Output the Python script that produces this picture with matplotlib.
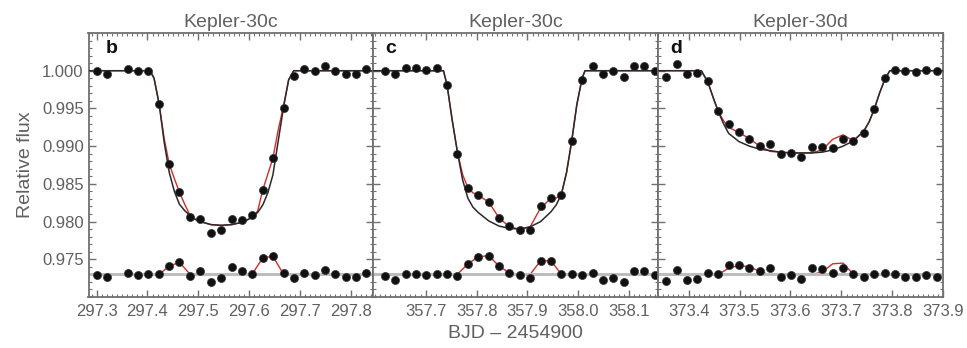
import matplotlib
matplotlib.use("Agg")
import matplotlib.pyplot as plt
from matplotlib.ticker import MultipleLocator, FixedLocator, FormatStrFormatter

plt.rcParams['font.family'] = ['Liberation Sans', 'DejaVu Sans']

# ---------------- data ----------------
titles = ["Kepler-30c", "Kepler-30c", "Kepler-30d"]
letters = ["b", "c", "d"]
xlims = [(297.284, 297.844), (357.5965, 358.1565), (373.340, 373.900)]
xticks = [[297.3, 297.4, 297.5, 297.6, 297.7, 297.8],
          [357.7, 357.8, 357.9, 358.0, 358.1],
          [373.4, 373.5, 373.6, 373.7, 373.8, 373.9]]
yticks = [0.975, 0.980, 0.985, 0.990, 0.995, 1.000]
resid_base = 0.973

# panel b
b_t = [297.300, 297.320, 297.361, 297.382, 297.402, 297.423, 297.443, 297.463, 297.484,
       297.504, 297.525, 297.545, 297.566, 297.586, 297.606, 297.627, 297.647, 297.668,
       297.688, 297.709, 297.729, 297.749, 297.770, 297.790, 297.811, 297.831, 297.852]
b_flux = [0.9999, 0.9996, 1.0002, 0.9999, 1.0000, 0.9956, 0.9876, 0.9839, 0.9806,
          0.9803, 0.9785, 0.9789, 0.9804, 0.9802, 0.9809, 0.9842, 0.9884, 0.9950,
          0.9993, 1.0002, 0.9999, 1.0006, 1.0000, 0.9996, 0.9996, 1.0002, 0.9998]
b_resid = [0.9729, 0.9727, 0.9732, 0.9729, 0.9731, 0.9730, 0.9741, 0.9746, 0.9728,
           0.9735, 0.9720, 0.9725, 0.9740, 0.9735, 0.9731, 0.9752, 0.9754, 0.9732,
           0.9725, 0.9732, 0.9729, 0.9736, 0.9731, 0.9727, 0.9727, 0.9732, 0.9729]
b_mt = [297.27, 297.405, 297.413, 297.423, 297.433, 297.443, 297.453, 297.463, 297.474,
        297.484, 297.494, 297.504, 297.525, 297.545, 297.566, 297.586, 297.596, 297.606,
        297.617, 297.627, 297.637, 297.647, 297.657, 297.668, 297.678, 297.688, 297.86]
b_black = [1.0000, 1.0000, 0.9990, 0.9956, 0.9905, 0.9865, 0.9840, 0.9823, 0.9814,
           0.9808, 0.9803, 0.9800, 0.9796, 0.9795, 0.9796, 0.9799, 0.9802, 0.9806,
           0.9812, 0.9822, 0.9838, 0.9862, 0.9905, 0.9952, 0.9988, 1.0000, 1.0000]
b_red = [1.0000, 1.0000, 0.9990, 0.9956, 0.9910, 0.9876, 0.9857, 0.9839, 0.9822,
         0.9808, 0.9803, 0.9800, 0.9796, 0.9795, 0.9796, 0.9799, 0.9802, 0.9806,
         0.9814, 0.9842, 0.9863, 0.9884, 0.9920, 0.9954, 0.9988, 1.0000, 1.0000]
b_rt = [297.27, 297.423, 297.443, 297.463, 297.484, 297.606, 297.627, 297.647, 297.668, 297.86]
b_rred = [0.9730, 0.9730, 0.9741, 0.9746, 0.9730, 0.9730, 0.9752, 0.9754, 0.9730, 0.9730]

# panel c
c_t = [357.6195, 357.6399, 357.6604, 357.6808, 357.7012, 357.7216, 357.7420, 357.7624,
       357.7829, 357.8033, 357.8237, 357.8441, 357.8645, 357.8849, 357.9053, 357.9258,
       357.9462, 357.9666, 357.9870, 358.0074, 358.0278, 358.0482, 358.0687, 358.0891,
       358.1095, 358.1299, 358.1503]
c_flux = [1.0000, 0.9995, 1.0004, 1.0004, 1.0001, 1.0003, 0.9981, 0.9890,
          0.9845, 0.9835, 0.9826, 0.9805, 0.9794, 0.9789, 0.9789, 0.9820,
          0.9831, 0.9835, 0.9907, 0.9988, 1.0006, 0.9996, 0.9999, 0.9992,
          1.0006, 1.0006, 1.0000]
c_resid = [0.9728, 0.9722, 0.9731, 0.9731, 0.9729, 0.9730, 0.9730, 0.9728,
           0.9744, 0.9753, 0.9755, 0.9741, 0.9732, 0.9729, 0.9725, 0.9748,
           0.9748, 0.9731, 0.9730, 0.9729, 0.9732, 0.9723, 0.9725, 0.9720,
           0.9735, 0.9735, 0.9729]
c_mt = [357.58, 357.735, 357.742, 357.752, 357.7624, 357.7727, 357.7829, 357.793,
        357.8033, 357.8237, 357.8441, 357.8645, 357.8849, 357.9053, 357.9258, 357.9462,
        357.9564, 357.9666, 357.9768, 357.9870, 357.997, 358.0074, 358.013, 358.17]
c_black = [1.0000, 1.0000, 0.9981, 0.9935, 0.9892, 0.9855, 0.9831, 0.9819,
           0.9812, 0.9801, 0.9794, 0.9791, 0.9790, 0.9793, 0.9800, 0.9813,
           0.9822, 0.9836, 0.9865, 0.9907, 0.9955, 0.9990, 1.0000, 1.0000]
c_red = [1.0000, 1.0000, 0.9981, 0.9935, 0.9892, 0.9862, 0.9845, 0.9838,
         0.9835, 0.9826, 0.9805, 0.9793, 0.9790, 0.9793, 0.9818, 0.9831,
         0.9831, 0.9836, 0.9865, 0.9907, 0.9955, 0.9990, 1.0000, 1.0000]
c_rt = [357.58, 357.7624, 357.7829, 357.8033, 357.8237, 357.8441, 357.8645, 357.8849,
        357.9053, 357.9258, 357.9462, 357.9666, 358.17]
c_rred = [0.9730, 0.9730, 0.9744, 0.9753, 0.9755, 0.9741, 0.9732, 0.9730,
          0.9730, 0.9748, 0.9748, 0.9730, 0.9730]

# panel d
d_t = [373.3561, 373.3765, 373.3969, 373.4173, 373.4378, 373.4582, 373.4786, 373.4990,
       373.5194, 373.5398, 373.5603, 373.5807, 373.6011, 373.6215, 373.6419, 373.6624,
       373.6828, 373.7032, 373.7236, 373.7440, 373.7645, 373.7849, 373.8053, 373.8257,
       373.8461, 373.8666, 373.8870]
d_flux = [0.9992, 1.0009, 0.9996, 0.9997, 0.9987, 0.9947, 0.9930, 0.9919,
          0.9909, 0.9900, 0.9903, 0.9890, 0.9891, 0.9885, 0.9899, 0.9899,
          0.9897, 0.9909, 0.9907, 0.9917, 0.9949, 0.9990, 1.0001, 0.9999,
          0.9998, 1.0001, 1.0000]
d_resid = [0.9721, 0.9736, 0.9723, 0.9724, 0.9732, 0.9731, 0.9743, 0.9743,
           0.9739, 0.9735, 0.9739, 0.9727, 0.9729, 0.9724, 0.9738, 0.9737,
           0.9732, 0.9738, 0.9730, 0.9727, 0.9730, 0.9732, 0.9730, 0.9727,
           0.9726, 0.9729, 0.9727]
d_mt = [373.33, 373.425, 373.4378, 373.448, 373.4582, 373.4684, 373.4786, 373.4990,
        373.5194, 373.5398, 373.5603, 373.5807, 373.6011, 373.6215, 373.6419, 373.6624,
        373.6828, 373.7032, 373.7236, 373.7440, 373.7543, 373.7645, 373.7747, 373.7849,
        373.795, 373.91]
d_black = [1.0000, 1.0000, 0.9985, 0.9965, 0.9946, 0.9930, 0.9917, 0.9906,
           0.9900, 0.9896, 0.9894, 0.9892, 0.9891, 0.9891, 0.9891, 0.9892,
           0.9895, 0.9900, 0.9907, 0.9920, 0.9932, 0.9949, 0.9970, 0.9988,
           1.0000, 1.0000]
d_red = [1.0000, 1.0000, 0.9985, 0.9965, 0.9946, 0.9934, 0.9925, 0.9918,
         0.9910, 0.9900, 0.9893, 0.9892, 0.9891, 0.9891, 0.9891, 0.9895,
         0.9909, 0.9915, 0.9907, 0.9920, 0.9932, 0.9949, 0.9970, 0.9988,
         1.0000, 1.0000]
d_rt = [373.33, 373.4582, 373.4786, 373.4990, 373.5194, 373.5398, 373.5603, 373.5807,
        373.6419, 373.6624, 373.6828, 373.7032, 373.7236, 373.91]
d_rred = [0.9730, 0.9730, 0.9738, 0.9742, 0.9740, 0.9734, 0.9729, 0.9730,
          0.9730, 0.9733, 0.9744, 0.9745, 0.9730, 0.9730]

panels = [
    (b_t, b_flux, b_resid, b_mt, b_black, b_red, b_rt, b_rred),
    (c_t, c_flux, c_resid, c_mt, c_black, c_red, c_rt, c_rred),
    (d_t, d_flux, d_resid, d_mt, d_black, d_red, d_rt, d_rred),
]

# ---------------- figure ----------------
W, H = 967, 348
fig = plt.figure(figsize=(W / 100, H / 100), dpi=100)
axes_px = [(88.5, 373.0), (373.0, 658.0), (658.0, 943.3)]
top_px, bot_px = 33.0, 297.0
txt_col = '#606060'
spine_col = '#707070'
letter_dx = [0.062, 0.042, 0.042]

for i, (px, data) in enumerate(zip(axes_px, panels)):
    t, flux, resid, mt, black, red, rt, rred = data
    ax = fig.add_axes([px[0] / W, 1 - bot_px / H, (px[1] - px[0]) / W, (bot_px - top_px) / H])
    ax.set_xlim(*xlims[i])
    ax.set_ylim(0.970, 1.005)

    # models
    ax.plot(mt, red, color='#d62a2a', lw=1.0, zorder=2)
    ax.plot(mt, black, color='#2a2a2a', lw=1.1, zorder=3)
    # residual models
    ax.plot(rt, rred, color='#d62a2a', lw=1.0, zorder=2)
    ax.axhline(resid_base, color='#bdbdbd', lw=2.2, zorder=2.5)
    # data
    ax.plot(t, flux, 'o', color='#111111', ms=5.8, mec='#333333', mew=0.5, zorder=4, clip_on=False)
    ax.plot(t, resid, 'o', color='#111111', ms=5.8, mec='#333333', mew=0.5, zorder=4, clip_on=False)

    ax.set_title(titles[i], color=txt_col, fontsize=14, pad=4)
    ax.text(letter_dx[i], 0.975, letters[i], transform=ax.transAxes, ha='left', va='top',
            fontsize=14, fontweight='bold', color='#111111')

    ax.xaxis.set_major_locator(FixedLocator(xticks[i]))
    ax.xaxis.set_major_formatter(FormatStrFormatter('%.1f'))
    ax.xaxis.set_minor_locator(MultipleLocator(0.01))
    ax.yaxis.set_major_locator(FixedLocator(yticks))
    ax.yaxis.set_major_formatter(FormatStrFormatter('%.3f'))
    ax.yaxis.set_minor_locator(MultipleLocator(0.001))
    ax.tick_params(which='both', direction='in', top=True, right=True, color=spine_col,
                   labelcolor=txt_col, labelsize=12)
    ax.tick_params(which='major', length=5, width=1.0)
    ax.tick_params(which='minor', length=2.5, width=0.8)
    ax.tick_params(axis='x', pad=5)
    if i > 0:
        ax.tick_params(axis='y', labelleft=False)
    else:
        ax.set_ylabel('Relative flux', color=txt_col, fontsize=14, labelpad=6)
    for s in ax.spines.values():
        s.set_color(spine_col)
        s.set_linewidth(1.3)
    if i == 1:
        ax.set_xlabel('BJD \u2013 2454900', color=txt_col, fontsize=14, labelpad=4)

fig.savefig('out.png', dpi=100)
